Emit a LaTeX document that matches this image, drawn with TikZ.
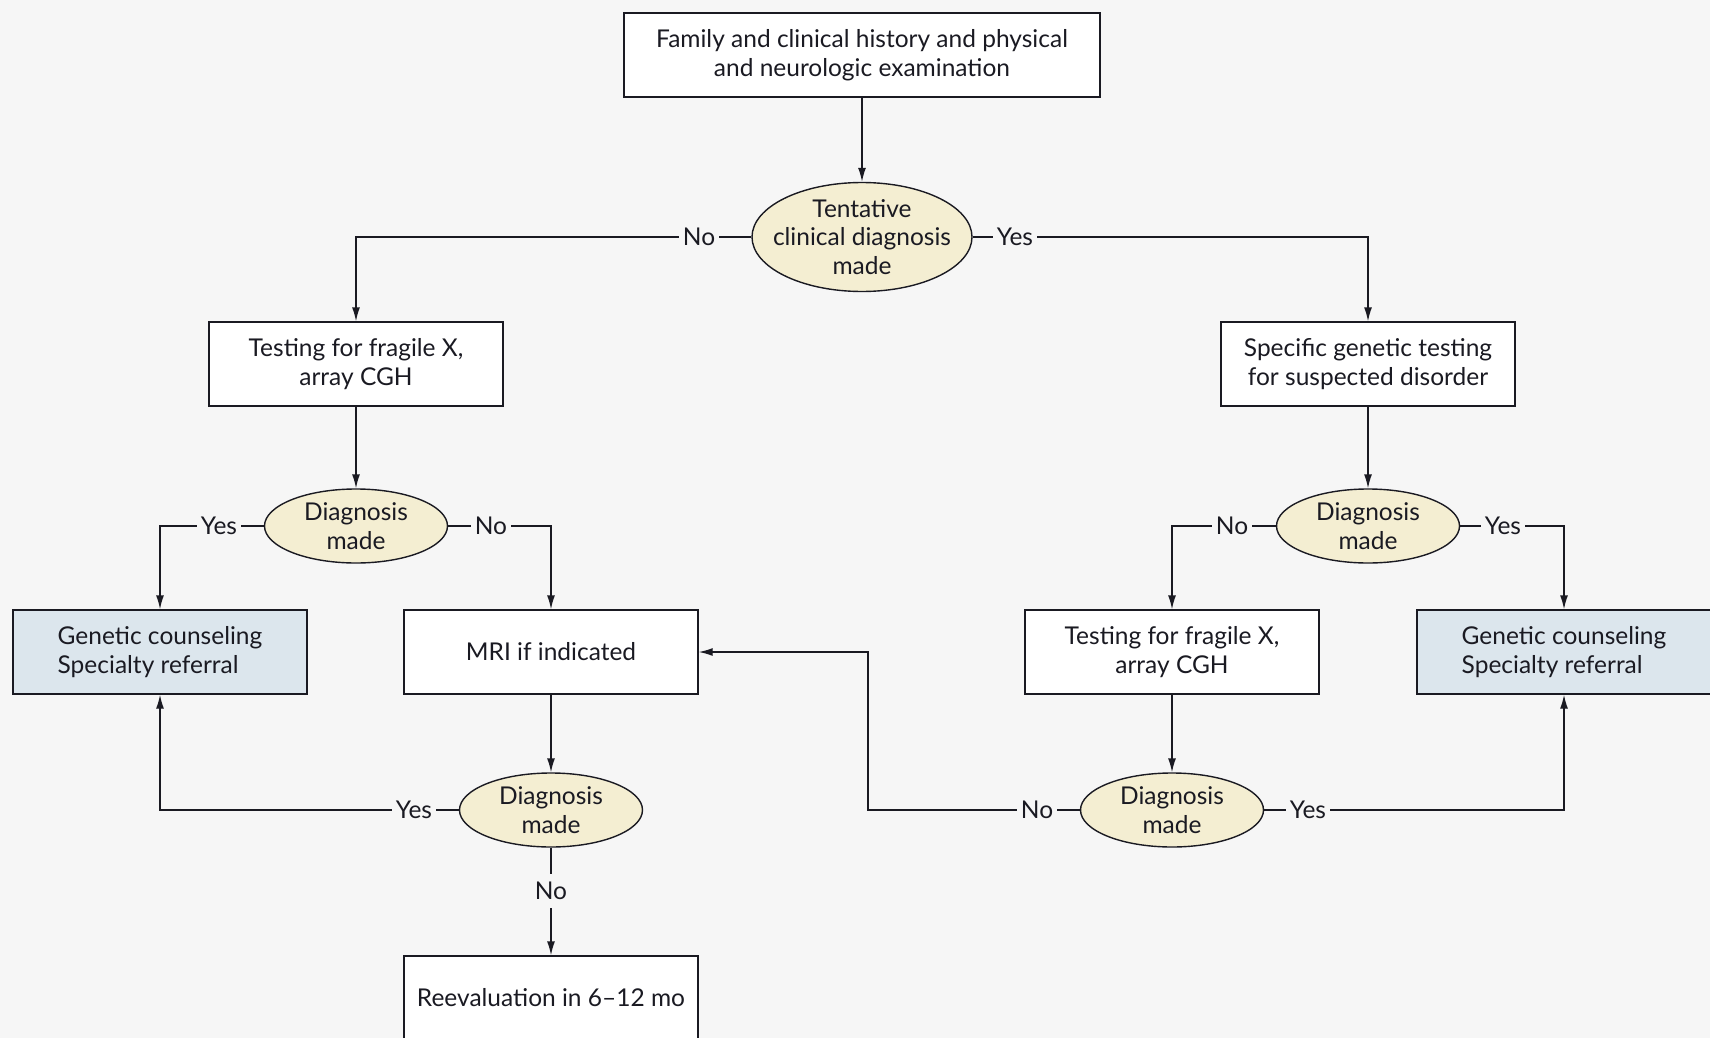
\documentclass[tikz,border=0pt]{standalone}
\usepackage{fontspec}
\setmainfont{Lato}
\usetikzlibrary{arrows.meta,shapes.geometric}
\definecolor{bg}{HTML}{F6F6F6}
\definecolor{cream}{HTML}{F4EED2}
\definecolor{paleblue}{HTML}{DCE6ED}
\definecolor{ink}{HTML}{1A1A22}
\tikzset{
  every node/.style={font=\fontsize{24.5}{28.5}\selectfont, text=ink},
  boxnode/.style={draw=ink, line width=1.4pt, fill=white, minimum width=294pt, minimum height=84pt, align=center, inner sep=0pt},
  bluebox/.style={boxnode, fill=paleblue, align=left},
  decision/.style={ellipse, draw=ink, line width=1.4pt, fill=cream, minimum width=183pt, minimum height=74pt, inner sep=0pt, align=center},
  lbl/.style={fill=bg, inner sep=4pt},
  arr/.style={draw=ink, line width=1.4pt, -{Latex[length=14pt,width=8pt]}},
  ln/.style={draw=ink, line width=1.4pt}
}
\begin{document}
\begin{tikzpicture}[x=1pt,y=-1pt]
\fill[bg] (0,0) rectangle (1710,1038);
\useasboundingbox (0,0) rectangle (1710,1038);

\node[boxnode, minimum width=476pt] (top) at (862,55) {Family and clinical history and physical\\and neurologic examination};
\node[decision, minimum width=220pt, minimum height=109pt, inner xsep=-30pt, inner ysep=-8pt] (tent) at (862,237) {Tentative\\clinical diagnosis\\made};

\node[boxnode] (tfxL) at (356,364) {Testing for fragile X,\\array CGH};
\node[boxnode] (sgt) at (1368,364) {Specific genetic testing\\for suspected disorder};

\node[decision] (dL) at (356,526) {Diagnosis\\made};
\node[decision] (dR) at (1368,526) {Diagnosis\\made};

\node[bluebox] (gcL) at (160,652) {Genetic counseling\\Specialty referral};
\node[boxnode] (mri) at (551,652) {MRI if indicated};
\node[boxnode] (tfxR) at (1172,652) {Testing for fragile X,\\array CGH};
\node[bluebox] (gcR) at (1564,652) {Genetic counseling\\Specialty referral};

\node[decision] (dM) at (551,810) {Diagnosis\\made};
\node[decision] (dB) at (1172,810) {Diagnosis\\made};

\node[boxnode] (reev) at (551,998) {Reevaluation in 6--12 mo};

\coordinate (cB) at (868,810);

% connectors
\draw[arr] (top) -- (tent);
\draw[arr] (tent.west) -| (tfxL.north);
\draw[arr] (tent.east) -| (sgt.north);
\draw[arr] (tfxL) -- (dL);
\draw[arr] (sgt) -- (dR);
\draw[arr] (dL.west) -| (gcL.north);
\draw[arr] (dL.east) -| (mri.north);
\draw[arr] (dR.west) -| (tfxR.north);
\draw[arr] (dR.east) -| (gcR.north);
\draw[arr] (mri) -- (dM);
\draw[arr] (tfxR) -- (dB);
\draw[arr] (dM.west) -| (gcL.south);
\draw[arr] (dM) -- (reev);
\draw[arr] (dB.west) -- (cB) |- (mri.east);
\draw[arr] (dB.east) -| (gcR.south);

% labels
\node[lbl] (l1) at (699,237) {No};
\node[lbl] (l2) at (1015,237) {Yes};
\node[lbl] (l3) at (219,526) {Yes};
\node[lbl] (l4) at (491,526) {No};
\node[lbl] (l5) at (1232,526) {No};
\node[lbl] (l6) at (1503,526) {Yes};
\node[lbl] (l7) at (414,810) {Yes};
\node[lbl, inner sep=8pt] (l8) at (551,891) {No};
\node[lbl] (l9) at (1037,810) {No};
\node[lbl] (l10) at (1308,810) {Yes};
\end{tikzpicture}
\end{document}
